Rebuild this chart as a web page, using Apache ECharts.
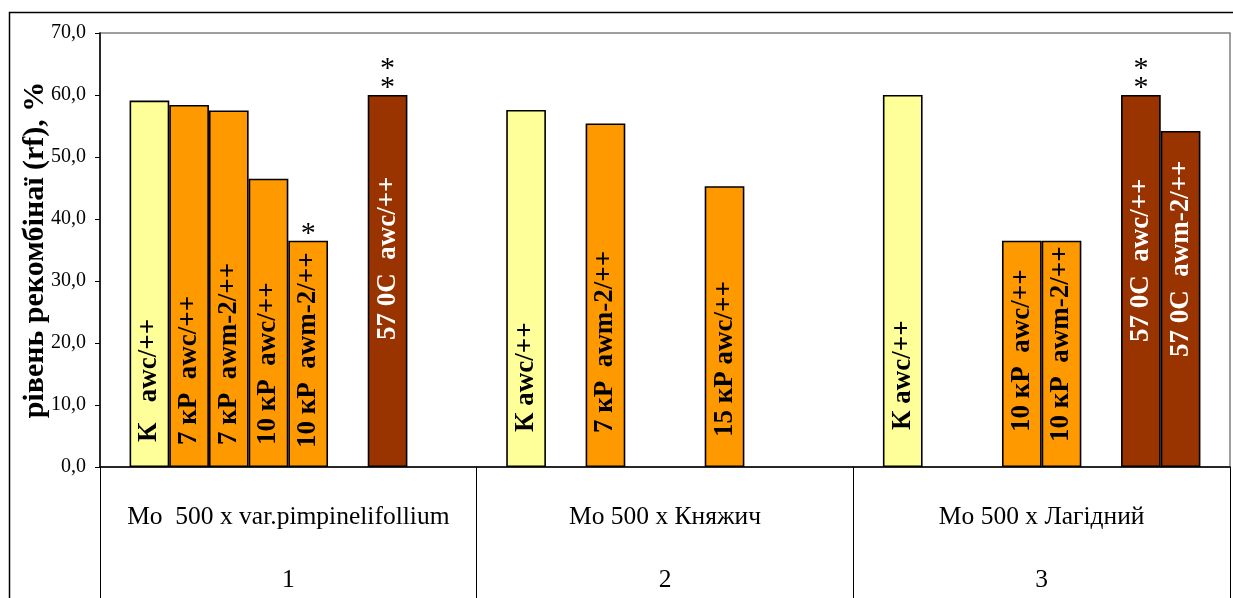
<!DOCTYPE html>
<html>
<head>
<meta charset="utf-8">
<script src="https://cdn.jsdelivr.net/npm/echarts@6/dist/echarts.min.js"></script>
<style>
  html, body { margin: 0; padding: 0; background: #ffffff; }
  #chart { width: 1233px; height: 598px; }
</style>
</head>
<body>
<div id="chart"></div>
<script>
// Crosses (category axis) and their row numbers
const groups = ['Mo  500 x var.pimpinelifollium', 'Mo 500 x Княжич', 'Mo 500 x Лагідний'];
const groupNumbers = ['1', '2', '3'];

// Y axis ticks
const yMin = 0;
const yMax = 70;
const yStep = 10;

// Recombination frequency (rf, %) per bar slot, one value per cross (null = no bar)
const slot1Values = [59.1, 57.6, 60.0];
const slot2Values = [58.4, null, null];
const slot3Values = [57.5, 55.4, null];
const slot4Values = [46.5, null, 36.5];
const slot5Values = [36.5, null, 36.5];
const slot6Values = [null, 45.3, null];
const slot7Values = [60.0, null, 60.0];
const slot8Values = [null, null, 54.2];

// Variant names written along each bar
const slot1Labels = ['К   awc/++', 'К awc/++', 'К awc/++'];
const slot2Labels = ['7 кР  awc/++', '', ''];
const slot3Labels = ['7 кР  awm-2/++', '7 кР  awm-2/++', ''];
const slot4Labels = ['10 кР  awc/++', '', '10 кР  awc/++'];
const slot5Labels = ['10 кР  awm-2/++', '', '10 кР  awm-2/++'];
const slot6Labels = ['', '15 кР awc/++', ''];
const slot7Labels = ['57 0C  awc/++', '', '57 0C  awc/++'];
const slot8Labels = ['', '', '57 0C  awm-2/++'];

// Treatment: control, irradiation, temperature
const slot1Kinds = ['control', 'control', 'control'];
const slot2Kinds = ['rad', null, null];
const slot3Kinds = ['rad', 'rad', null];
const slot4Kinds = ['rad', null, 'rad'];
const slot5Kinds = ['rad', null, 'rad'];
const slot6Kinds = [null, 'rad', null];
const slot7Kinds = ['heat', null, 'heat'];
const slot8Kinds = [null, null, 'heat'];

// Significance marks above bars
const slot5Marks = ['*', '', ''];
const slot7Marks = ['**', '', '**'];

// ---- styling / layout ----
const kindColors = { control: '#FFFF99', rad: '#FF9900', heat: '#993300' };
const kindText = { control: '#000000', rad: '#000000', heat: '#FFFFFF' };
// how far each rotated label starts above the bar foot (px)
const labelLift = [
  [25, 35, 37], [22, 0, 0], [22, 34, 0], [22, 0, 35],
  [19, 0, 25], [0, 30, 0], [127, 0, 125], [0, 0, 110]
];

const serif = '"Liberation Serif", "Times New Roman", serif';

const slots = [
  { values: slot1Values, labels: slot1Labels, kinds: slot1Kinds },
  { values: slot2Values, labels: slot2Labels, kinds: slot2Kinds },
  { values: slot3Values, labels: slot3Labels, kinds: slot3Kinds },
  { values: slot4Values, labels: slot4Labels, kinds: slot4Kinds },
  { values: slot5Values, labels: slot5Labels, kinds: slot5Kinds, marks: slot5Marks },
  { values: slot6Values, labels: slot6Labels, kinds: slot6Kinds },
  { values: slot7Values, labels: slot7Labels, kinds: slot7Kinds, marks: slot7Marks },
  { values: slot8Values, labels: slot8Labels, kinds: slot8Kinds }
];

const series = [];
slots.forEach((s, i) => {
  series.push({
    type: 'bar',
    stack: 'slot' + i,
    barGap: '0%',
    barCategoryGap: '15.7%',
    itemStyle: { borderColor: '#000000', borderWidth: 1.6 },
    data: s.values.map((v, j) => v == null ? null : {
      value: v,
      itemStyle: { color: kindColors[s.kinds[j]] },
      label: {
        show: true,
        formatter: s.labels[j],
        position: 'insideBottom',
        distance: labelLift[i][j],
        rotate: 90,
        align: 'left',
        verticalAlign: 'middle',
        color: kindText[s.kinds[j]],
        fontFamily: serif,
        fontWeight: 'bold',
        fontSize: 27
      }
    })
  });
  if (s.marks) {
    series.push({
      type: 'bar',
      stack: 'slot' + i,
      itemStyle: { color: 'rgba(0,0,0,0)', borderWidth: 0 },
      silent: true,
      data: s.marks.map(m => m ? {
        value: 0,
        label: {
          show: true,
          position: 'top',
          distance: -3,
          formatter: m.split('').join('\n'),
          color: '#000000',
          fontFamily: serif,
          fontSize: 30,
          lineHeight: 19
        }
      } : null)
    });
  }
});

const chart = echarts.init(document.getElementById('chart'), null, { renderer: 'canvas' });
chart.setOption({
  animation: false,
  backgroundColor: '#ffffff',
  grid: {
    left: 100, right: 3, top: 33, bottom: 131,
    show: true, borderColor: '#808080', borderWidth: 1.5, backgroundColor: 'transparent'
  },
  graphic: [{
    type: 'rect',
    shape: { x: 9.5, y: 12.5, width: 1240, height: 620 },
    style: { fill: 'none', stroke: '#000000', lineWidth: 1.5 },
    silent: true
  }],
  xAxis: {
    type: 'category',
    data: groups,
    axisLine: { lineStyle: { color: '#000000', width: 1.5 } },
    axisTick: { show: true, interval: 0, length: 131, lineStyle: { color: '#000000', width: 1 } },
    axisLabel: {
      interval: 0,
      margin: 19,
      formatter: (name, idx) => '{a|' + name + '}\n{b|' + groupNumbers[idx] + '}',
      rich: {
        a: { fontFamily: serif, fontSize: 25.5, color: '#000000', lineHeight: 63 },
        b: { fontFamily: serif, fontSize: 25.5, color: '#000000', lineHeight: 63 }
      }
    }
  },
  yAxis: {
    type: 'value',
    min: yMin, max: yMax, interval: yStep,
    name: 'рівень рекомбінаї (rf), %',
    nameLocation: 'middle',
    nameRotate: 90,
    nameGap: 50,
    nameMoveOverlap: false,
    nameTextStyle: { fontFamily: serif, fontWeight: 'bold', fontSize: 30, color: '#000000' },
    axisLine: { show: true, lineStyle: { color: '#000000', width: 1.5 } },
    axisTick: { show: true, inside: false, length: 5, lineStyle: { color: '#000000' } },
    splitLine: { show: false },
    axisLabel: {
      margin: 14,
      fontFamily: serif, fontSize: 20, color: '#000000',
      formatter: v => v.toFixed(1).replace('.', ',')
    }
  },
  series: series
});
</script>
</body>
</html>
